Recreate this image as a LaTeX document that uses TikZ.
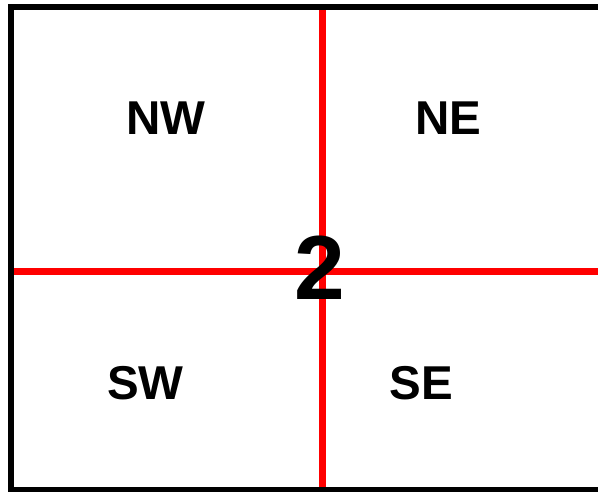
\documentclass[tikz,border=0pt]{standalone}
\usepackage{fontspec}
\setmainfont{Liberation Sans}
\tikzset{
  quadlabel/.style={inner sep=0pt, font=\bfseries\fontsize{47.5}{50}\selectfont},
  biglabel/.style={inner sep=0pt, font=\bfseries\fontsize{91}{95}\selectfont},
  redline/.style={draw=red, line width=7pt},
  frame/.style={draw=black, line width=6pt}
}
\begin{document}
\begin{tikzpicture}[x=1pt, y=-1pt]
\useasboundingbox (0,0) rectangle (598,491);
\coordinate (L) at (11,271);
\coordinate (R) at (604,271);
\coordinate (T) at (322,7);
\coordinate (B) at (322,490);
\draw[redline] (L) -- (R);
\draw[redline] (T) -- (B);
\draw[frame] (11,7) rectangle (604,490);
\node[quadlabel] (nw) at (166,118) {NW};
\node[quadlabel] (ne) at (448,118) {NE};
\node[quadlabel] (sw) at (145.5,383) {SW};
\node[quadlabel] (se) at (421,383) {SE};
\node[biglabel] (two) at (320,268) {2};
\end{tikzpicture}
\end{document}
